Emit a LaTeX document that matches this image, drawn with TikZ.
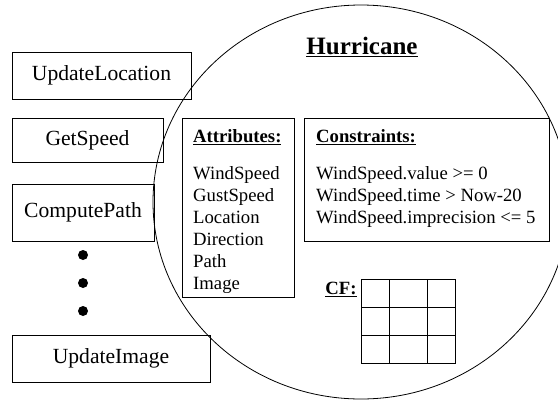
\documentclass[tikz,border=0pt]{standalone}
\usepackage{fontspec}
\setmainfont{Liberation Serif}
\usetikzlibrary{shapes.geometric}
\tikzset{
  opbox/.style={draw, line width=0.8pt, inner sep=0pt, font=\fontsize{21.6}{26}\selectfont},
  partbox/.style={draw, line width=0.8pt, inner sep=0pt},
  partlist/.style={align=left, inner sep=0pt, font=\fontsize{18.7}{22}\selectfont},
  bigdot/.style={circle, fill, inner sep=0pt, minimum size=10pt}
}
\begin{document}
\begin{tikzpicture}[x=1pt,y=-1pt]
\useasboundingbox (0,0) rectangle (558,400);
\clip (0,0) rectangle (558,400);
% the object
\node[draw, ellipse, line width=0.8pt, minimum width=416pt, minimum height=394pt] (hurricane) at (361,202) {};
\node[font=\fontsize{25}{30}\selectfont\bfseries] (title) at (362,47) {\underline{Hurricane}};
% methods
\node[opbox, minimum width=179pt, minimum height=47pt] (updloc) at (101.5,75.5) {UpdateLocation};
\node[opbox, minimum width=151pt, minimum height=44pt] (getspeed) at (87.5,140) {GetSpeed};
\node[opbox, minimum width=142pt, minimum height=57pt] (comppath) at (83,212.5) {ComputePath};
\node[bigdot] (d1) at (83,255) {};
\node[bigdot] (d2) at (83,283) {};
\node[bigdot] (d3) at (83,311) {};
\node[opbox, minimum width=198pt, minimum height=47pt] (updimg) at (111,358.5) {UpdateImage};
% attributes
\node[partbox, minimum width=112pt, minimum height=179pt] (attr) at (238,207.5) {};
\node[partlist, anchor=west] (attrtitle) at (193,137) {\underline{\textbf{Attributes:}}};
\node[partlist, anchor=north west] (attrlist) at (193,166) {WindSpeed\\GustSpeed\\Location\\Direction\\Path\\Image};
% constraints
\node[partbox, minimum width=245pt, minimum height=123pt] (cons) at (426.5,179.5) {};
\node[partlist, anchor=west] (constitle) at (316,137) {\underline{\textbf{Constraints:}}};
\node[partlist, anchor=north west] (conslist) at (316,166) {WindSpeed.value {>}= 0\\WindSpeed.time {>} Now-20\\WindSpeed.imprecision {<}= 5};
% confidence grid
\node[partlist] (cf) at (341,289) {\underline{\textbf{CF:}}};
\draw[line width=0.8pt] (361,279) rectangle (455,363);
\draw[line width=0.8pt] (389,279) -- (389,363);
\draw[line width=0.8pt] (427,279) -- (427,363);
\draw[line width=0.8pt] (361,307) -- (455,307);
\draw[line width=0.8pt] (361,335) -- (455,335);
\end{tikzpicture}
\end{document}
